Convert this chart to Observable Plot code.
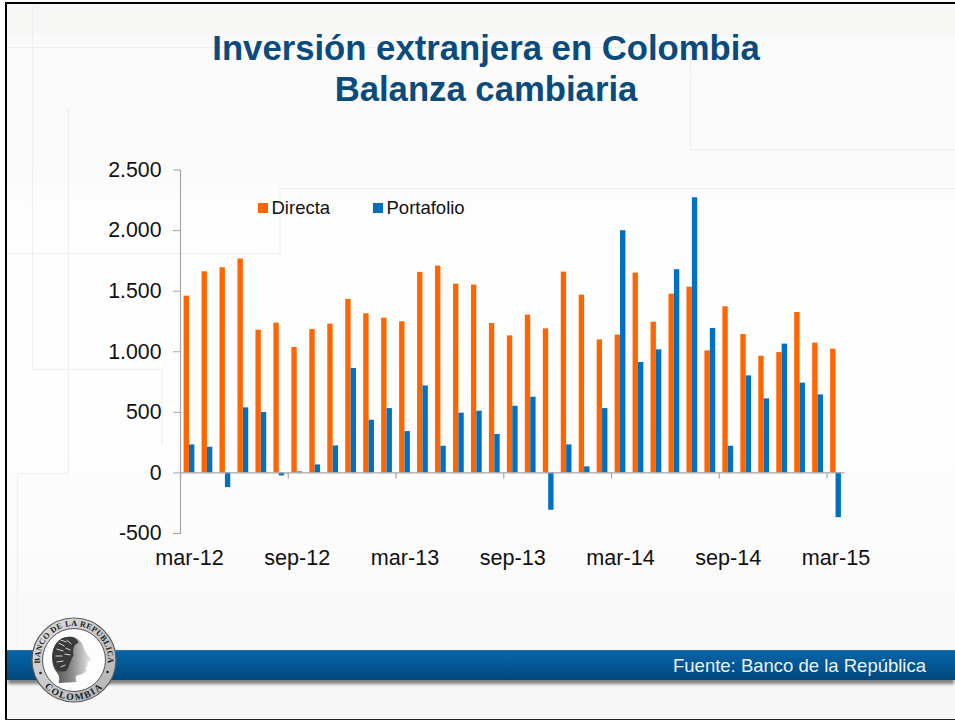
<!DOCTYPE html>
<html lang="es">
<head>
<meta charset="utf-8">
<title>Inversión extranjera en Colombia</title>
<script src="https://cdn.jsdelivr.net/npm/d3@7"></script>
<script src="https://cdn.jsdelivr.net/npm/@observablehq/plot@0.6"></script>
<style>
  html, body { margin: 0; padding: 0; background: #fff; }
  #page { position: relative; width: 955px; height: 721px; overflow: hidden; font-family: "Liberation Sans", Arial, sans-serif; }
  #slide { position: absolute; left: 5px; top: 2px; width: 950px; height: 718px; box-sizing: border-box;
    border-top: 2.6px solid #000; border-left: 2px solid #000; border-bottom: 1.5px solid #222;
    background: linear-gradient(#f6f6f5 0, #f7f7f6 28px, #fafafa 32px, #fbfbfb 180px, #fdfdfd 190px, #fefefe 400px, #fcfcfc 530px, #f9f9f9 600px, #f7f7f7 100%); }
  svg.deco { position: absolute; left: 0; top: 0; }
  #logo { position: absolute; left: 30.5px; top: 617px; overflow: visible; }
  #chart { position: absolute; left: 0; top: 0; }
  #chart svg { background: transparent; display: block; }
  h1 { position: absolute; left: 0; width: 972px; top: 28px; margin: 0; text-align: center; color: #0b4a7c;
    font: bold 34.7px/41px "Liberation Sans", Arial, sans-serif; }
  #band { position: absolute; left: 7px; right: 0; top: 650px; height: 30px;
    background: linear-gradient(#2a78b4 0, #0a64a6 1.5px, #045a98 12px, #00477a 100%);
    box-shadow: 0 5px 3px -1px rgba(90,90,90,.75); }
  #source { position: absolute; left: 673px; top: 656px; color: #eef3f8; font-size: 18.5px; line-height: 20px; white-space: nowrap; }
  #legend { position: absolute; top: 198px; left: 0; font-size: 18.5px; line-height: 20px; color: #111; }
  #legend span { position: absolute; white-space: nowrap; }
  #legend i { position: absolute; width: 10px; height: 10px; top: 5px; }
</style>
</head>
<body>
<div id="page">
  <div id="slide"></div>
  <svg class="deco" width="955" height="721">
    <path fill="none" stroke="#efefef" stroke-width="1.2"
      d="M7 47.5H690.5V150H955 M32.5 5V369.5H162V445 M68.5 107V473.5H17.5V650 M7 253.5H280V188.5H955"/>
  </svg>
  <div id="chart"></div>
  <h1>Inversión extranjera en Colombia<br>Balanza cambiaria</h1>
  <div id="legend"></div>
  <div id="band"></div>
  <div id="source">Fuente: Banco de la República</div>
  <svg id="logo" width="86" height="86" viewBox="0 0 86 86">
    <defs>
      <linearGradient id="ringFill" x1="0" y1="0" x2="1" y2="1">
        <stop offset="0" stop-color="#dedede"/><stop offset="1" stop-color="#b2b2b2"/>
      </linearGradient>
      <linearGradient id="faceFill" x1="0" y1="0" x2="1" y2="0">
        <stop offset="0" stop-color="#4a4a4a"/><stop offset=".5" stop-color="#8a8a8a"/><stop offset="1" stop-color="#ededed"/>
      </linearGradient>
      <path id="arcTop" d="M10.6 53.2A34 34 0 1 1 75.4 53.2"/>
      <path id="arcBottom" d="M14.5 71A40 40 0 0 0 71.5 71"/>
    </defs>
    <circle cx="43" cy="43" r="42" fill="url(#ringFill)" stroke="#5c5c5c" stroke-width="1.2"/>
    <circle cx="43" cy="43" r="31.5" fill="#fdfdfd" stroke="#555" stroke-width="1"/>
    <g font-family="Liberation Serif, serif" font-weight="bold" fill="#1c1c1c">
      <text font-size="8.2" letter-spacing=".35"><textPath href="#arcTop" startOffset="50%" text-anchor="middle">BANCO DE LA REPUBLICA</textPath></text>
      <text font-size="9.6" letter-spacing="1.5"><textPath href="#arcBottom" startOffset="50%" text-anchor="middle">COLOMBIA</textPath></text>
    </g>
    <circle cx="9.5" cy="56" r="1.3" fill="#222"/>
    <circle cx="76.5" cy="55" r="1.3" fill="#222"/>
    <g transform="translate(-30.5,-617)">
      <path fill="url(#faceFill)" d="M67 637C75 636 81 640 83 647L85 652L91 660L87 662L87 666L85 668L86 671L82 674C79 675 76 675 75 677L76 682L58 683C60 677 58 675 56 672C50 665 50 650 56 643C59 639 63 637 67 637Z"/>
      <path fill="#3a3a3a" d="M67 637C73 636 77 639 78 643C73 644 72 650 73 655C70 660 69 666 66 671C60 672 56 672 55 668C51 660 51 650 56 643C59 639 63 637 67 637Z"/>
      <path fill="none" stroke="#d5d5d5" stroke-width="1" d="M58 643L64 646 M56 649L63 651 M55 656L62 656 M56 662L63 661 M60 640L66 642 M66 640L71 644 M65 648L70 650 M64 654L70 655 M60 667L65 665"/>
    </g>
  </svg>
</div>
<script>
const months = [
  "mar-12","abr-12","may-12","jun-12","jul-12","ago-12","sep-12","oct-12","nov-12","dic-12","ene-13","feb-13",
  "mar-13","abr-13","may-13","jun-13","jul-13","ago-13","sep-13","oct-13","nov-13","dic-13","ene-14","feb-14",
  "mar-14","abr-14","may-14","jun-14","jul-14","ago-14","sep-14","oct-14","nov-14","dic-14","ene-15","feb-15",
  "mar-15"
];
const directa = [
  1459,1660,1693,1765,1178,1236,1035,1184,1228,1432,1313,1277,
  1247,1655,1707,1558,1550,1233,1131,1302,1189,1657,1467,1098,
  1137,1649,1244,1475,1533,1007,1371,1142,963,993,1324,1071,
  1021
];
const portafolio = [
  231,212,-121,537,498,-25,8,66,223,862,435,531,
  341,718,220,493,509,317,550,625,-308,231,50,531,
  1999,911,1016,1677,2271,1192,220,801,611,1063,741,644,
  -369
];
const tickMonths = ["mar-12","sep-12","mar-13","sep-13","mar-14","sep-14","mar-15"];
const yTicks = [-500,0,500,1000,1500,2000,2500];
const seriesNames = ["Directa","Portafolio"];
const seriesColors = ["#ff6600","#0070c0"];

const axisGrey = "#a6a6a6";
const locale = d3.formatLocale({decimal:",",thousands:".",grouping:[3],currency:["$",""],minus:"-"});
const fmt = locale.format(",");
const rows = s => months.map((month,i)=>({month,value:(s===seriesNames[0]?directa:portafolio)[i],series:s}));

const chart = Plot.plot({
  width: 955, height: 721,
  marginLeft: 180, marginRight: 110.5, marginTop: 169.5, marginBottom: 188,
  style: {background:"transparent", fontFamily:'"Liberation Sans", Arial, sans-serif', fontSize:"21px", color:"#111"},
  x: {type:"band", domain: months, padding: 0, label: null},
  y: {domain:[-500,2500], label: null},
  color: {domain: seriesNames, range: seriesColors},
  marks: [
    Plot.barY(rows(seriesNames[0]), {x:"month", y:"value", fill:"series", insetLeft:3.6, insetRight:9}),
    Plot.barY(rows(seriesNames[1]), {x:"month", y:"value", fill:"series", insetLeft:9, insetRight:3.6}),
    Plot.ruleY([0], {stroke:axisGrey, strokeWidth:1.2}),
    Plot.ruleX(tickMonths, {x:d=>d, y1:0, y2:-50, dx:-9, stroke:axisGrey, strokeWidth:1.2}),
    Plot.frame({anchor:"left", stroke:axisGrey, strokeWidth:1.2}),
    Plot.axisY({ticks:yTicks, tickFormat:fmt, tickSize:7, tickPadding:12, stroke:axisGrey, fill:"#111", label:null, fontSize:21.3}),
    Plot.axisX({ticks:tickMonths, tickSize:0, tickPadding:16, fill:"#111", label:null, fontSize:21.6})
  ]
});
document.getElementById("chart").appendChild(chart);

const legend = document.getElementById("legend");
[[258,271.5],[373,386.5]].forEach(([sw,tx],i)=>{
  const sq=document.createElement("i"); sq.style.left=sw+"px"; sq.style.background=seriesColors[i]; legend.appendChild(sq);
  const t=document.createElement("span"); t.style.left=tx+"px"; t.textContent=seriesNames[i]; legend.appendChild(t);
});
</script>
</body>
</html>
